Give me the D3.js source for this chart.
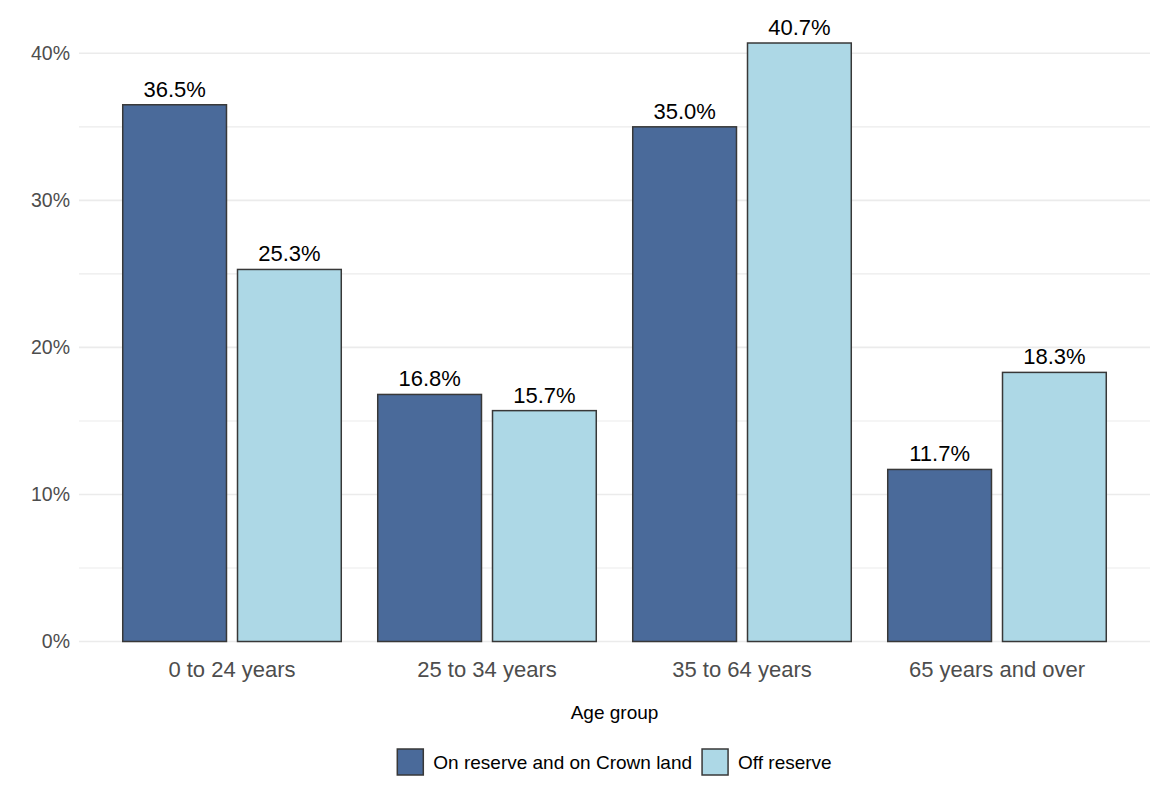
<!DOCTYPE html>
<html>
<head>
<meta charset="utf-8">
<script src="https://cdn.jsdelivr.net/npm/d3@7"></script>
<style>
  body { margin: 0; background: #fff; }
  svg { font-family: "Liberation Sans", Arial, sans-serif; }
</style>
</head>
<body>
<svg width="1170" height="788"></svg>
<script>
// Data
const ageGroups = ["0 to 24 years", "25 to 34 years", "35 to 64 years", "65 years and over"];
const seriesNames = ["On reserve and on Crown land", "Off reserve"];
const onReserve = [36.5, 16.8, 35.0, 11.7];
const offReserve = [25.3, 15.7, 40.7, 18.3];
const yTicks = [0, 10, 20, 30, 40];
const yMinorTicks = [5, 15, 25, 35];
const colors = ["#4a6a9a", "#add8e6"];

const svg = d3.select("svg");
const panel = { left: 79, right: 1150, top: 20, bottom: 641.5 };

// Scales
const x = d3.scalePoint()
  .domain(ageGroups)
  .range([panel.left, panel.right])
  .padding(0.6);

const groupWidth = x.step() * 0.857;
const xInner = d3.scaleBand()
  .domain(seriesNames)
  .range([-groupWidth / 2, groupWidth / 2])
  .paddingInner(0.096);

const y = d3.scaleLinear()
  .domain([0, 40])
  .range([panel.bottom, 53.3]);

// Gridlines
svg.append("g")
  .selectAll("line")
  .data(yMinorTicks.concat(yTicks))
  .join("line")
  .attr("x1", panel.left)
  .attr("x2", panel.right)
  .attr("y1", d => y(d))
  .attr("y2", d => y(d))
  .attr("stroke", "#ebebeb")
  .attr("stroke-width", d => yTicks.includes(d) ? 1.6 : 1.1);

// Y-axis labels
svg.append("g")
  .selectAll("text")
  .data(yTicks)
  .join("text")
  .attr("x", 70)
  .attr("y", d => y(d))
  .attr("dy", "0.35em")
  .attr("text-anchor", "end")
  .attr("font-size", 19.5)
  .attr("fill", "#4d4d4d")
  .text(d => d + "%");

// X-axis labels
svg.append("g")
  .selectAll("text")
  .data(ageGroups)
  .join("text")
  .attr("x", d => x(d))
  .attr("y", 677)
  .attr("text-anchor", "middle")
  .attr("font-size", 22)
  .attr("fill", "#4d4d4d")
  .text(d => d);

// Bars
const rows = [];
ageGroups.forEach((g, i) => {
  rows.push({ group: g, series: seriesNames[0], value: onReserve[i], color: colors[0] });
  rows.push({ group: g, series: seriesNames[1], value: offReserve[i], color: colors[1] });
});

svg.append("g")
  .selectAll("rect")
  .data(rows)
  .join("rect")
  .attr("x", d => x(d.group) + xInner(d.series))
  .attr("y", d => y(d.value))
  .attr("width", xInner.bandwidth())
  .attr("height", d => y(0) - y(d.value))
  .attr("fill", d => d.color)
  .attr("stroke", "#383838")
  .attr("stroke-width", 1.5);

// Value labels
svg.append("g")
  .selectAll("text")
  .data(rows)
  .join("text")
  .attr("x", d => x(d.group) + xInner(d.series) + xInner.bandwidth() / 2)
  .attr("y", d => y(d.value) - 8)
  .attr("text-anchor", "middle")
  .attr("font-size", 22)
  .attr("fill", "#000")
  .text(d => d.value.toFixed(1) + "%");

// Axis title
svg.append("text")
  .attr("x", (panel.left + panel.right) / 2)
  .attr("y", 719)
  .attr("text-anchor", "middle")
  .attr("font-size", 19)
  .attr("fill", "#000")
  .text("Age group");

// Legend
const legend = svg.append("g");
const keySize = 26;
let lx = 0;
const items = [];
seriesNames.forEach((name, i) => {
  const item = legend.append("g").attr("transform", `translate(${lx},0)`);
  item.append("rect")
    .attr("x", 0).attr("y", 0)
    .attr("width", keySize).attr("height", keySize)
    .attr("fill", colors[i])
    .attr("stroke", "#383838")
    .attr("stroke-width", 1.5);
  const t = item.append("text")
    .attr("x", keySize + 10)
    .attr("y", keySize / 2)
    .attr("dy", "0.35em")
    .attr("font-size", 19)
    .attr("fill", "#000")
    .text(name);
  lx += keySize + 10 + t.node().getComputedTextLength() + 10;
});
const legendWidth = lx - 10;
legend.attr("transform", `translate(${(panel.left + panel.right) / 2 - legendWidth / 2}, 749)`);
</script>
</body>
</html>
